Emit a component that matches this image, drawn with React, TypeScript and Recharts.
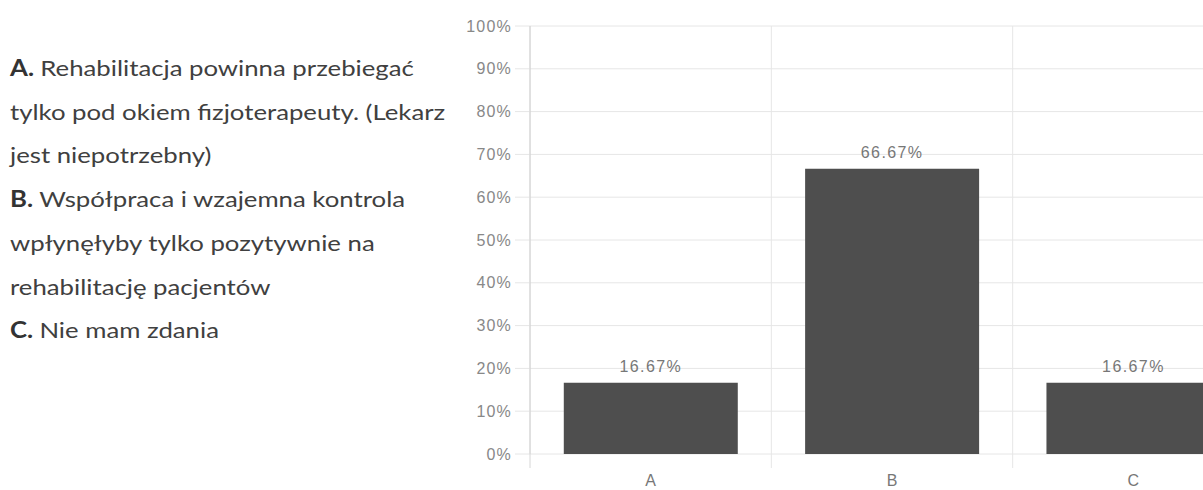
import { BarChart, Bar, XAxis, YAxis, CartesianGrid, LabelList } from "recharts";

const categories = ["A", "B", "C"];
const shares = [16.67, 66.67, 16.67];
const yTicks = [0, 10, 20, 30, 40, 50, 60, 70, 80, 90, 100];

const answers = [
  { key: "A.", lines: ["Rehabilitacja powinna przebiegać", "tylko pod okiem fizjoterapeuty. (Lekarz", "jest niepotrzebny)"] },
  { key: "B.", lines: ["Współpraca i wzajemna kontrola", "wpłynęłyby tylko pozytywnie na", "rehabilitację pacjentów"] },
  { key: "C.", lines: ["Nie mam zdania"] },
];

const data = categories.map((name, i) => ({ name, value: shares[i] }));

const CHART_W = 1259;
const CHART_H = 490;
const TOP = 26;
const AXIS_W = 530;
const X_AXIS_H = 36;
const PLOT_W = CHART_W - AXIS_W - 5;
const PLOT_BOTTOM = CHART_H - X_AXIS_H;
const BAND = PLOT_W / categories.length;

const GRID = "#e6e6e6";
const AXIS = "#d6d6d6";
const TICK_FONT = "'Liberation Sans', Arial, sans-serif";

// category label at the band centre, plus a boundary line at the band's left edge
function CategoryTick(props: any) {
  const { x, payload } = props;
  const half = payload?.offset ?? BAND / 2;
  const edge = x - half;
  return (
    <g>
      <line x1={edge} x2={edge} y1={TOP} y2={PLOT_BOTTOM + 14} stroke={payload?.index === 0 ? AXIS : GRID} />
      <text
        x={x}
        y={PLOT_BOTTOM + 32}
        textAnchor="middle"
        fill="#777"
        fontSize={16}
        fontFamily={TICK_FONT}
      >
        {payload.value}
      </text>
    </g>
  );
}

export default function App() {
  return (
    <div style={{ position: "absolute", left: 0, top: 0, width: 1203, height: 490, overflow: "hidden", background: "#fff" }}>
      <div
        style={{
          position: "absolute",
          left: 10,
          top: 46,
          fontFamily: "Lato, 'Open Sans', sans-serif",
          fontSize: 22,
          lineHeight: "43.7px",
          color: "#404040",
          whiteSpace: "nowrap",
          transform: "scaleX(1.17)",
          transformOrigin: "0 0",
        }}
      >
        {answers.map((a) =>
          a.lines.map((line, j) => (
            <div key={a.key + j}>
              {j === 0 && <b style={{ color: "#333" }}>{a.key} </b>}
              {line}
            </div>
          ))
        )}
      </div>
      <div style={{ position: "absolute", left: 0, top: 0 }}>
        <BarChart
          width={CHART_W}
          height={CHART_H}
          data={data}
          margin={{ top: TOP, right: 5, left: 0, bottom: 0 }}
          barCategoryGap="14%"
        >
          <CartesianGrid stroke={GRID} vertical={false} />
          <XAxis
            dataKey="name"
            height={X_AXIS_H}
            axisLine={false}
            tickLine={false}
            tick={<CategoryTick />}
            interval={0}
          />
          <YAxis
            width={AXIS_W}
            domain={[0, 100]}
            ticks={yTicks}
            interval={0}
            tickFormatter={(v: number) => `${v}%`}
            axisLine={{ stroke: AXIS }}
            tickLine={{ stroke: GRID }}
            tickSize={15}
            tickMargin={3}
            tick={{ fill: "#888", fontSize: 16, fontFamily: TICK_FONT, letterSpacing: 1.2 }}
          />
          <Bar dataKey="value" fill="#4e4e4e" isAnimationActive={false}>
            <LabelList
              dataKey="value"
              position="top"
              offset={11}
              formatter={(v: any) => `${Number(v).toFixed(2)}%`}
              fill="#777"
              fontSize={16}
              fontFamily={TICK_FONT}
              letterSpacing={1.4}
            />
          </Bar>
        </BarChart>
      </div>
    </div>
  );
}
